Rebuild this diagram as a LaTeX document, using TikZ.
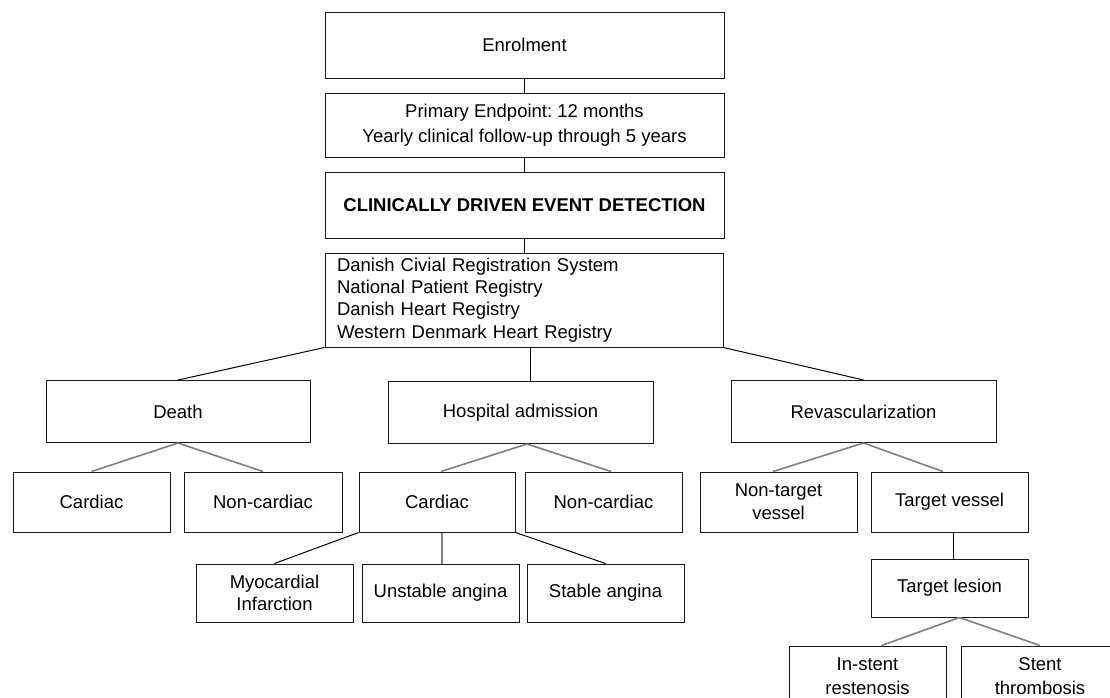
\documentclass[tikz,border=0pt]{standalone}
\usepackage{fontspec}
\setmainfont{Liberation Sans}
\frenchspacing
\begin{document}
\begin{tikzpicture}[x=1pt,y=-1pt,
  box/.style={draw=black!90,line width=1pt,fill=white,inner sep=0pt,align=center,font=\fontsize{18.5}{23}\selectfont},
  big/.style={box,minimum width=399pt,minimum height=66pt},
  mid/.style={box,minimum width=265pt,minimum height=62pt},
  small/.style={box,minimum width=157pt,minimum height=60pt},
  dark/.style={draw=black,line width=1pt},
  grey/.style={draw=black!50,line width=1.6pt}]
\clip (0,0) rectangle (1110,697);
\fill[white] (0,0) rectangle (1110,697);
\node[big] (enrol) at (524.5,45) {Enrolment};
\node[big,minimum height=64pt,font=\fontsize{18.5}{25}\selectfont] (primary) at (524.5,125) {Primary Endpoint: 12 months\\Yearly clinical follow-up through 5 years};
\node[big] (clin) at (524.5,205) {\bfseries CLINICALLY DRIVEN EVENT DETECTION};
\node[box,text width=374pt,inner xsep=12pt,minimum height=94pt,align=left,font=\fontsize{18.5}{22.3}\selectfont] (danish) at (524,300) {Danish Civial Registration System\\National Patient Registry\\Danish Heart Registry\\Western Denmark Heart Registry};
\node[mid,minimum width=264pt] (death) at (178,411.5) {Death};
\node[mid] (hosp) at (520.5,412.5) {Hospital admission};
\node[mid] (revasc) at (863.5,411.5) {Revascularization};
\node[small] (dcard) at (91.5,502) {Cardiac};
\node[small,minimum width=158pt] (dnon) at (263,502) {Non-cardiac};
\node[small,minimum width=156pt] (hcard) at (437,502) {Cardiac};
\node[small] (hnon) at (603.5,502) {Non-cardiac};
\node[small] (nontarget) at (778.5,502) {Non-target\\vessel};
\node[small] (tvessel) at (949.5,502) {Target vessel};
\node[small,minimum height=58pt,font=\fontsize{18.5}{22}\selectfont] (mi) at (274.5,593) {Myocardial\\Infarction};
\node[small,minimum height=58pt] (unstable) at (440.5,593) {Unstable angina};
\node[small,minimum height=58pt] (stable) at (605.5,593) {Stable angina};
\node[small,minimum height=58pt] (lesion) at (949.5,588) {Target lesion};
\node[small,font=\fontsize{18.5}{24}\selectfont] (instent) at (867.5,676) {In-stent\\restenosis};
\node[small,font=\fontsize{18.5}{24}\selectfont] (stent) at (1040,676) {Stent\\thrombosis};
% connectors
\draw[dark] (enrol.south) -- (primary.north);
\draw[dark] (primary.south) -- (clin.north);
\draw[dark] (clin.south) -- (danish.north -| clin.south);
\draw[dark] (danish.south west) -- (death.north);
\draw[dark] ([xshift=6pt]danish.south) -- ([xshift=9.5pt]hosp.north);
\draw[dark] (danish.south east) -- (revasc.north);
\draw[grey] (death.south) -- (dcard.north);
\draw[grey] (death.south) -- (dnon.north);
\draw[grey] ([xshift=6.5pt]hosp.south) -- ([xshift=4pt]hcard.north);
\draw[grey] ([xshift=6.5pt]hosp.south) -- ([xshift=7.5pt]hnon.north);
\draw[dark] (hcard.south west) -- (mi.north);
\draw[grey,line width=1.3pt] ([xshift=5pt]hcard.south) -- ([xshift=5pt]hcard.south |- unstable.north);
\draw[dark] (hcard.south east) -- (stable.north);
\draw[grey] (revasc.south) -- ([xshift=-5.5pt]nontarget.north);
\draw[grey] (revasc.south) -- ([xshift=-6.5pt]tvessel.north);
\draw[dark] ([xshift=3.5pt]tvessel.south) -- ([xshift=3.5pt]lesion.north);
\draw[grey] ([xshift=10pt]lesion.south) -- ([xshift=14pt]instent.north);
\draw[grey] ([xshift=10pt]lesion.south) -- ([xshift=0pt]stent.north);
\end{tikzpicture}
\end{document}
